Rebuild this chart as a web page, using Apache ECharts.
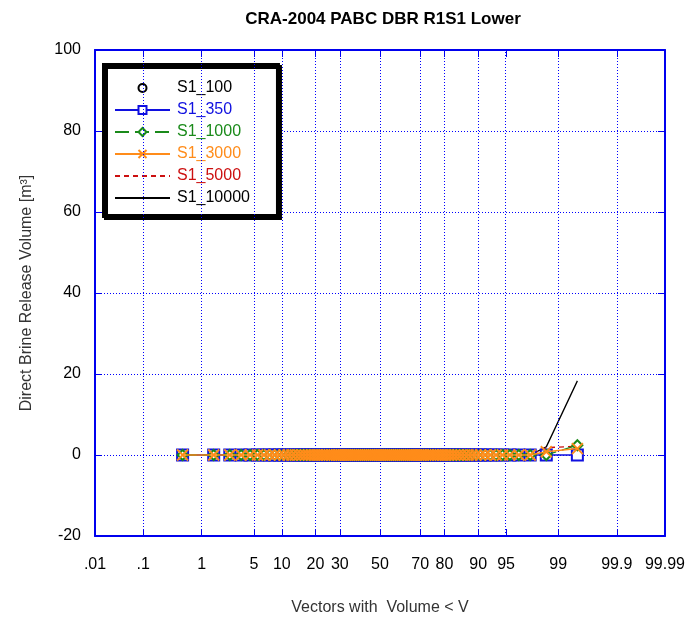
<!DOCTYPE html>
<html>
<head>
<meta charset="utf-8">
<script src="https://cdn.jsdelivr.net/npm/echarts@6/dist/echarts.min.js"></script>
<style>
  html, body { margin: 0; padding: 0; background: #fff; }
  #chart { width: 688px; height: 621px; }
</style>
</head>
<body>
<div id="chart"></div>
<script>
// Probability-axis tick labels (percent of vectors)
const tickLabels = ['.01', '.1', '1', '5', '10', '20', '30', '50', '70', '80', '90', '95', '99', '99.9', '99.99'];
const tickPercents = [0.01, 0.1, 1, 5, 10, 20, 30, 50, 70, 80, 90, 95, 99, 99.9, 99.99];

// Plotting position (percent) of each of the 100 ranked vectors
const vectorPercents = [
  0.5, 1.5, 2.5, 3.5, 4.5, 5.5, 6.5, 7.5, 8.5, 9.5,
  10.5, 11.5, 12.5, 13.5, 14.5, 15.5, 16.5, 17.5, 18.5, 19.5,
  20.5, 21.5, 22.5, 23.5, 24.5, 25.5, 26.5, 27.5, 28.5, 29.5,
  30.5, 31.5, 32.5, 33.5, 34.5, 35.5, 36.5, 37.5, 38.5, 39.5,
  40.5, 41.5, 42.5, 43.5, 44.5, 45.5, 46.5, 47.5, 48.5, 49.5,
  50.5, 51.5, 52.5, 53.5, 54.5, 55.5, 56.5, 57.5, 58.5, 59.5,
  60.5, 61.5, 62.5, 63.5, 64.5, 65.5, 66.5, 67.5, 68.5, 69.5,
  70.5, 71.5, 72.5, 73.5, 74.5, 75.5, 76.5, 77.5, 78.5, 79.5,
  80.5, 81.5, 82.5, 83.5, 84.5, 85.5, 86.5, 87.5, 88.5, 89.5,
  90.5, 91.5, 92.5, 93.5, 94.5, 95.5, 96.5, 97.5, 98.5, 99.5
];

// Sorted direct brine release volumes [m3] per scenario
const s1_100 = [
  0, 0, 0, 0, 0, 0, 0, 0, 0, 0,
  0, 0, 0, 0, 0, 0, 0, 0, 0, 0,
  0, 0, 0, 0, 0, 0, 0, 0, 0, 0,
  0, 0, 0, 0, 0, 0, 0, 0, 0, 0,
  0, 0, 0, 0, 0, 0, 0, 0, 0, 0,
  0, 0, 0, 0, 0, 0, 0, 0, 0, 0,
  0, 0, 0, 0, 0, 0, 0, 0, 0, 0,
  0, 0, 0, 0, 0, 0, 0, 0, 0, 0,
  0, 0, 0, 0, 0, 0, 0, 0, 0, 0,
  0, 0, 0, 0, 0, 0, 0, 0, 0, 0
];
const s1_350 = [
  0, 0, 0, 0, 0, 0, 0, 0, 0, 0,
  0, 0, 0, 0, 0, 0, 0, 0, 0, 0,
  0, 0, 0, 0, 0, 0, 0, 0, 0, 0,
  0, 0, 0, 0, 0, 0, 0, 0, 0, 0,
  0, 0, 0, 0, 0, 0, 0, 0, 0, 0,
  0, 0, 0, 0, 0, 0, 0, 0, 0, 0,
  0, 0, 0, 0, 0, 0, 0, 0, 0, 0,
  0, 0, 0, 0, 0, 0, 0, 0, 0, 0,
  0, 0, 0, 0, 0, 0, 0, 0, 0, 0,
  0, 0, 0, 0, 0, 0, 0, 0, 0, 0
];
const s1_1000 = [
  0, 0, 0, 0, 0, 0, 0, 0, 0, 0,
  0, 0, 0, 0, 0, 0, 0, 0, 0, 0,
  0, 0, 0, 0, 0, 0, 0, 0, 0, 0,
  0, 0, 0, 0, 0, 0, 0, 0, 0, 0,
  0, 0, 0, 0, 0, 0, 0, 0, 0, 0,
  0, 0, 0, 0, 0, 0, 0, 0, 0, 0,
  0, 0, 0, 0, 0, 0, 0, 0, 0, 0,
  0, 0, 0, 0, 0, 0, 0, 0, 0, 0,
  0, 0, 0, 0, 0, 0, 0, 0, 0, 0,
  0, 0, 0, 0, 0, 0, 0, 0, 0, 2.4
];
const s1_3000 = [
  0, 0, 0, 0, 0, 0, 0, 0, 0, 0,
  0, 0, 0, 0, 0, 0, 0, 0, 0, 0,
  0, 0, 0, 0, 0, 0, 0, 0, 0, 0,
  0, 0, 0, 0, 0, 0, 0, 0, 0, 0,
  0, 0, 0, 0, 0, 0, 0, 0, 0, 0,
  0, 0, 0, 0, 0, 0, 0, 0, 0, 0,
  0, 0, 0, 0, 0, 0, 0, 0, 0, 0,
  0, 0, 0, 0, 0, 0, 0, 0, 0, 0,
  0, 0, 0, 0, 0, 0, 0, 0, 0, 0,
  0, 0, 0, 0, 0, 0, 0, 0, 0.8, 1.6
];
const s1_5000 = [
  0, 0, 0, 0, 0, 0, 0, 0, 0, 0,
  0, 0, 0, 0, 0, 0, 0, 0, 0, 0,
  0, 0, 0, 0, 0, 0, 0, 0, 0, 0,
  0, 0, 0, 0, 0, 0, 0, 0, 0, 0,
  0, 0, 0, 0, 0, 0, 0, 0, 0, 0,
  0, 0, 0, 0, 0, 0, 0, 0, 0, 0,
  0, 0, 0, 0, 0, 0, 0, 0, 0, 0,
  0, 0, 0, 0, 0, 0, 0, 0, 0, 0,
  0, 0, 0, 0, 0, 0, 0, 0, 0, 0,
  0, 0, 0, 0, 0, 0, 0, 0, 1.8, 2.2
];
const s1_10000 = [
  0, 0, 0, 0, 0, 0, 0, 0, 0, 0,
  0, 0, 0, 0, 0, 0, 0, 0, 0, 0,
  0, 0, 0, 0, 0, 0, 0, 0, 0, 0,
  0, 0, 0, 0, 0, 0, 0, 0, 0, 0,
  0, 0, 0, 0, 0, 0, 0, 0, 0, 0,
  0, 0, 0, 0, 0, 0, 0, 0, 0, 0,
  0, 0, 0, 0, 0, 0, 0, 0, 0, 0,
  0, 0, 0, 0, 0, 0, 0, 0, 0, 0,
  0, 0, 0, 0, 0, 0, 0, 0, 0, 0,
  0, 0, 0, 0, 0, 0, 0, 0, 2.0, 18.3
];

// Inverse standard normal CDF (Acklam), used as the probability-scale transform
function probit(p) {
  const a = [-3.969683028665376e+01, 2.209460984245205e+02, -2.759285104469687e+02, 1.383577518672690e+02, -3.066479806614716e+01, 2.506628277459239e+00];
  const b = [-5.447609879822406e+01, 1.615858368580409e+02, -1.556989798598866e+02, 6.680131188771972e+01, -1.328068155288572e+01];
  const c = [-7.784894002430293e-03, -3.223964580411365e-01, -2.400758277161838e+00, -2.549732539343734e+00, 4.374664141464968e+00, 2.938163982698783e+00];
  const d = [7.784695709041462e-03, 3.224671290700398e-01, 2.445134137142996e+00, 3.754408661907416e+00];
  const pl = 0.02425, ph = 1 - pl;
  let q, r;
  if (p < pl) {
    q = Math.sqrt(-2 * Math.log(p));
    return (((((c[0] * q + c[1]) * q + c[2]) * q + c[3]) * q + c[4]) * q + c[5]) /
           ((((d[0] * q + d[1]) * q + d[2]) * q + d[3]) * q + 1);
  }
  if (p <= ph) {
    q = p - 0.5; r = q * q;
    return (((((a[0] * r + a[1]) * r + a[2]) * r + a[3]) * r + a[4]) * r + a[5]) * q /
           (((((b[0] * r + b[1]) * r + b[2]) * r + b[3]) * r + b[4]) * r + 1);
  }
  q = Math.sqrt(-2 * Math.log(1 - p));
  return -(((((c[0] * q + c[1]) * q + c[2]) * q + c[3]) * q + c[4]) * q + c[5]) /
          ((((d[0] * q + d[1]) * q + d[2]) * q + d[3]) * q + 1);
}

const tickZ = tickPercents.map(p => probit(p / 100));
const xMin = tickZ[0];
const xMax = tickZ[tickZ.length - 1];
function tickText(v) {
  for (let i = 0; i < tickZ.length; i++) {
    if (Math.abs(tickZ[i] - v) < 1e-6) return tickLabels[i];
  }
  return '';
}
const pairs = ys => vectorPercents.map((p, i) => [probit(p / 100), ys[i]]);

const BLUE = '#0000ee';
const GRID_BLUE = '#0000ff';
const FONT = 'Liberation Sans, Arial, sans-serif';
const xMark = 'path://M0,0L10,10M10,0L0,10';
const dotted = { color: GRID_BLUE, type: [1, 2], width: 1, opacity: 1 };
const hiddenSymbol = { color: 'rgba(0,0,0,0)', borderColor: 'rgba(0,0,0,0)', borderWidth: 0, opacity: 0 };

const chart = echarts.init(document.getElementById('chart'), null, { renderer: 'canvas' });

const axisBase = {
  axisLine: { show: true, onZero: false, lineStyle: { color: BLUE, width: 2 } },
  axisTick: { show: true, inside: true, length: 7, lineStyle: { color: BLUE, width: 1 } }
};

chart.setOption({
  animation: false,
  backgroundColor: '#fff',
  title: {
    text: 'CRA-2004 PABC DBR R1S1 Lower',
    left: 378,
    top: 6,
    textAlign: 'center',
    textStyle: { fontFamily: FONT, fontSize: 17, fontWeight: 'bold', color: '#000' }
  },
  grid: { left: 95, right: 23, top: 50, bottom: 84, containLabel: false },
  legend: {
    orient: 'vertical',
    left: 104,
    top: 65,
    padding: [15, 28, 10, 10],
    itemWidth: 55,
    itemHeight: 10,
    itemGap: 6,
    backgroundColor: '#fff',
    borderColor: '#000',
    borderWidth: 4,
    borderRadius: 0,
    shadowColor: '#000',
    shadowOffsetX: 2,
    shadowOffsetY: 2,
    shadowBlur: 0,
    textStyle: { fontFamily: FONT, fontSize: 16, lineHeight: 16, padding: [0, 0, 0, 2] },
    data: [
      { name: 'S1_100', textStyle: { color: '#000' } },
      { name: 'S1_350', textStyle: { color: '#1010e0' } },
      { name: 'S1_1000', textStyle: { color: '#1a8a1a' } },
      { name: 'S1_3000', textStyle: { color: '#ff8c1a' } },
      { name: 'S1_5000', textStyle: { color: '#cc1010' }, itemStyle: hiddenSymbol },
      { name: 'S1_10000', textStyle: { color: '#000' }, itemStyle: hiddenSymbol }
    ]
  },
  xAxis: [
    Object.assign({}, axisBase, {
      type: 'value',
      position: 'bottom',
      min: xMin,
      max: xMax,
      name: 'Vectors with  Volume < V',
      nameLocation: 'middle',
      nameGap: 64,
      nameTextStyle: { fontFamily: FONT, fontSize: 16, color: '#333' },
      axisTick: Object.assign({}, axisBase.axisTick, { customValues: tickZ }),
      axisLabel: {
        customValues: tickZ,
        formatter: tickText,
        margin: 21,
        fontFamily: FONT, fontSize: 16, color: '#000'
      },
      splitLine: { show: false }
    }),
    Object.assign({}, axisBase, {
      type: 'value',
      position: 'top',
      min: xMin,
      max: xMax,
      axisTick: Object.assign({}, axisBase.axisTick, { customValues: tickZ }),
      axisLabel: { show: false, customValues: tickZ },
      splitLine: { show: false }
    })
  ],
  yAxis: [
    Object.assign({}, axisBase, {
      type: 'value',
      position: 'left',
      min: -20,
      max: 100,
      interval: 20,
      name: 'Direct Brine Release Volume [m³]',
      nameLocation: 'middle',
      nameGap: 60,
      nameTextStyle: { fontFamily: FONT, fontSize: 16, color: '#333' },
      axisLabel: { margin: 14, fontFamily: FONT, fontSize: 16, color: '#000' },
      splitLine: { show: true, lineStyle: dotted }
    }),
    Object.assign({}, axisBase, {
      type: 'value',
      position: 'right',
      min: -20,
      max: 100,
      interval: 20,
      axisLabel: { show: false },
      splitLine: { show: false }
    })
  ],
  series: [
    {
      // vertical probability grid lines
      type: 'line',
      data: [],
      silent: true,
      z: 1,
      markLine: {
        silent: true,
        symbol: ['none', 'none'],
        label: { show: false },
        lineStyle: dotted,
        emphasis: { disabled: true },
        data: tickZ.slice(1, -1).map(z => ({ xAxis: z }))
      }
    },
    {
      name: 'S1_10000', type: 'line', z: 2, data: pairs(s1_10000),
      showSymbol: false, symbol: 'none',
      lineStyle: { color: '#000', width: 1.3 }, itemStyle: { color: '#000' }
    },
    {
      name: 'S1_5000', type: 'line', z: 3, data: pairs(s1_5000),
      showSymbol: false, symbol: 'none',
      lineStyle: { color: '#cc1010', width: 1.3, type: [5, 4] }, itemStyle: { color: '#cc1010' }
    },
    {
      name: 'S1_100', type: 'line', z: 4, data: pairs(s1_100),
      symbol: 'emptyCircle', symbolSize: 9,
      lineStyle: { color: '#000', width: 0 },
      itemStyle: { color: '#000', borderColor: '#000', borderWidth: 1.5 }
    },
    {
      name: 'S1_350', type: 'line', z: 5, data: pairs(s1_350),
      symbol: 'emptyRect', symbolSize: 11,
      lineStyle: { color: '#1010e0', width: 1.3 },
      itemStyle: { color: '#1010e0', borderColor: '#1010e0', borderWidth: 1.5 }
    },
    {
      name: 'S1_1000', type: 'line', z: 6, data: pairs(s1_1000),
      symbol: 'emptyDiamond', symbolSize: 10,
      lineStyle: { color: '#1a8a1a', width: 1.3, type: [14, 6] },
      itemStyle: { color: '#1a8a1a', borderColor: '#1a8a1a', borderWidth: 1.5 }
    },
    {
      name: 'S1_3000', type: 'line', z: 7, data: pairs(s1_3000),
      symbol: xMark, symbolSize: 11,
      lineStyle: { color: '#ff8c1a', width: 1.3 },
      itemStyle: { color: 'none', borderColor: '#ff8c1a', borderWidth: 1.8 }
    }
  ]
});
</script>
</body>
</html>
